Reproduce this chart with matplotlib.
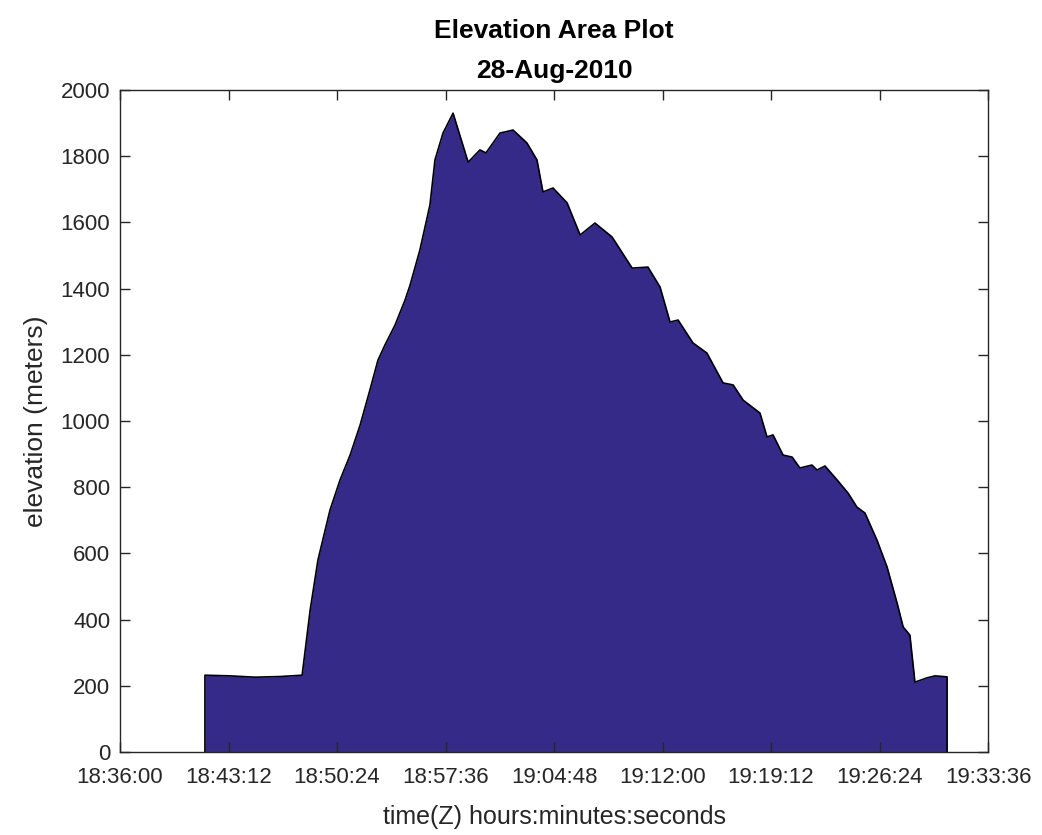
import matplotlib
matplotlib.use("Agg")
import matplotlib.pyplot as plt

plt.rcParams['font.family'] = ['Liberation Sans', 'DejaVu Sans']

# elapsed seconds after 18:36:00
elapsed_s = [338, 438, 538, 637, 725, 757, 788, 836, 876, 916, 956, 995, 1027, 1055,
             1095, 1135, 1155, 1194, 1234, 1254, 1286, 1326, 1386, 1433, 1457, 1513,
             1565, 1620, 1660, 1684, 1724, 1780, 1832, 1891, 1959, 2039, 2102, 2150,
             2190, 2222, 2281, 2337, 2401, 2441, 2481, 2548, 2576, 2600, 2640, 2676,
             2707, 2755, 2775, 2807, 2855, 2899, 2934, 2966, 3014, 3054, 3094, 3118,
             3145, 3165, 3213, 3245, 3293]
elevation_m = [232, 230, 226, 228, 232, 429, 580, 731, 822, 897, 988, 1094, 1184, 1230,
               1290, 1366, 1411, 1517, 1653, 1789, 1870, 1930, 1782, 1819, 1810, 1870,
               1879, 1840, 1789, 1692, 1704, 1659, 1562, 1598, 1556, 1462, 1465, 1405,
               1299, 1305, 1236, 1205, 1115, 1109, 1063, 1024, 952, 958, 897, 891,
               858, 867, 852, 864, 822, 782, 740, 722, 640, 559, 450, 378,
               353, 211, 224, 230, 227]

xtick_s = [0, 432, 864, 1296, 1728, 2160, 2592, 3024, 3456]
xtick_labels = ['18:36:00', '18:43:12', '18:50:24', '18:57:36', '19:04:48',
                '19:12:00', '19:19:12', '19:26:24', '19:33:36']
ytick_vals = [0, 200, 400, 600, 800, 1000, 1200, 1400, 1600, 1800, 2000]

fig = plt.figure(figsize=(10.42, 8.35), dpi=100)
ax = fig.add_axes([0.1152, 0.0994, 0.8330, 0.7928])

xs = [elapsed_s[0]] + elapsed_s + [elapsed_s[-1]]
ys = [0] + elevation_m + [0]
ax.fill_between(elapsed_s, elevation_m, 0, color='#352a87', linewidth=0)
ax.plot(xs, ys, color='black', linewidth=1.2)

ax.set_xlim(0, 3456)
ax.set_ylim(0, 2000)
ax.set_xticks(xtick_s)
ax.set_xticklabels(xtick_labels)
ax.set_yticks(ytick_vals)
ax.tick_params(direction='in', length=7, width=1, top=True, right=True,
               labelsize=16, colors='#262626')
ax.tick_params(axis='x', pad=11)
ax.tick_params(axis='y', pad=7)
for sp in ax.spines.values():
    sp.set_color('#262626')
    sp.set_linewidth(1)

ax.set_xlabel('time(Z) hours:minutes:seconds', fontsize=18, color='#262626', labelpad=12)
ax.set_ylabel('elevation (meters)', fontsize=19, color='#262626', labelpad=9)
ax.set_title('Elevation Area Plot\n28-Aug-2010', fontsize=19, fontweight='bold',
             color='black', pad=9, linespacing=1.8)

fig.savefig('out.png', dpi=100)
